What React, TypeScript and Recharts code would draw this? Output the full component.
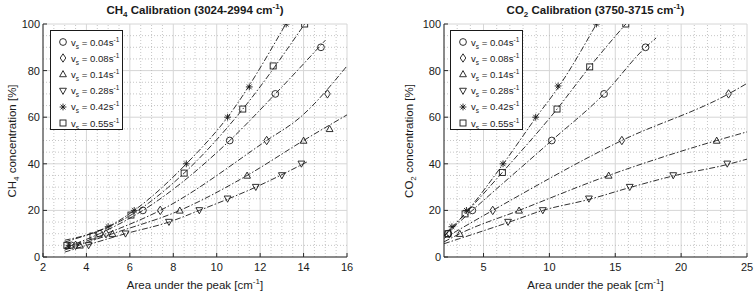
import React from 'react';
import {
  ComposedChart,
  Scatter,
  Line,
  XAxis,
  YAxis,
  CartesianGrid,
  ReferenceLine,
} from 'recharts';

// flow speeds (legend) and the marker used for each
const speeds = ['0.04', '0.08', '0.14', '0.28', '0.42', '0.55'];
const markerKinds = ['circle', 'diamond', 'triangle', 'triangleDown', 'asterisk', 'square'];

const yTicks = [0, 20, 40, 60, 80, 100];
const ch4XTicks = [2, 4, 6, 8, 10, 12, 14, 16];
const co2XTicks = [5, 10, 15, 20, 25];

// CH4 measured points [area, concentration]
const ch4V004 = [[3.3, 5], [4.6, 10], [6.6, 20], [10.6, 50], [12.7, 70], [14.8, 90]];
const ch4V008 = [[3.5, 5], [4.9, 10], [7.4, 20], [12.3, 50], [15.1, 70]];
const ch4V014 = [[3.7, 5], [5.2, 10], [8.3, 20], [11.4, 35], [14.0, 50], [15.2, 55]];
const ch4V028 = [[4.1, 5], [5.8, 10], [7.8, 15], [9.2, 20], [10.5, 25], [11.8, 30], [13.0, 35], [13.9, 40]];
const ch4V042 = [[3.2, 5], [5.0, 13], [6.2, 20], [8.6, 40], [10.5, 60], [11.5, 73], [13.2, 100]];
const ch4V055 = [[3.1, 5], [4.3, 9], [6.05, 18], [8.5, 36], [11.2, 63.5], [12.6, 82], [14.05, 100]];

// CH4 fitted curves
const ch4Fit004 = [[3, 4], [4.6, 10], [6.6, 20], [10.6, 50], [12.7, 70], [15.0, 93]];
const ch4Fit008 = [[3, 3.5], [4.9, 10], [7.4, 20], [12.3, 50], [13.85, 60], [16, 82]];
const ch4Fit014 = [[3, 3], [5.2, 10], [8.3, 20], [11.4, 35], [14.0, 50], [16, 61]];
const ch4Fit028 = [[3, 2.1], [5.8, 10], [7.8, 15], [9.2, 20], [11.8, 30], [14.2, 41]];
const ch4Fit042 = [[3, 7.2], [5.0, 13], [6.2, 20], [8.6, 40], [10.5, 60], [13.18, 100]];
const ch4Fit055 = [[3, 6.4], [6.05, 18], [8.5, 36], [11.2, 63.5], [14.05, 100]];

// CO2 measured points
const co2V004 = [[2.3, 10], [4.15, 20], [10.18, 50], [14.15, 70], [17.3, 90]];
const co2V008 = [[2.4, 10], [5.7, 20], [15.5, 50], [23.6, 70]];
const co2V014 = [[3.2, 10], [7.7, 20], [14.5, 35], [22.7, 50]];
const co2V028 = [[6.86, 15], [9.5, 20], [13.0, 25], [16.1, 30], [19.4, 35], [23.5, 40]];
const co2V042 = [[2.6, 13], [3.7, 20], [6.48, 40], [8.96, 60], [10.66, 73.4], [13.57, 100]];
const co2V055 = [[2.3, 10], [3.6, 18.5], [6.43, 36.3], [10.58, 63.5], [13.06, 81.6], [15.8, 100]];

// CO2 fitted curves
const co2Fit004 = [[2, 9], [4.15, 20], [10.18, 50], [14.15, 70], [17.3, 90], [18.1, 94]];
const co2Fit008 = [[2, 8], [5.7, 20], [15.5, 50], [23.6, 70], [25, 74.5]];
const co2Fit014 = [[2, 6.5], [3.2, 10], [7.7, 20], [14.5, 35], [22.7, 50], [25, 53.7]];
const co2Fit028 = [[2, 5.7], [6.86, 14.8], [9.5, 20], [13, 24.7], [16.1, 29.8], [19.4, 34.8], [23.5, 39.7], [25, 42]];
const co2Fit042 = [[2, 9], [3.8, 20], [6.5, 40], [9, 60], [10.7, 73], [13.57, 100]];
const co2Fit055 = [[2, 9], [3.6, 18.5], [6.43, 36.3], [10.58, 63.5], [13.06, 81.6], [15.8, 100]];

const FONT = '"Liberation Sans", Arial, Helvetica, sans-serif';
const INK = '#1a1a1a';

const pts = (a: number[][]) => a.map(([x, y]) => ({ x, y }));

function minorSteps(from: number, to: number, step: number, major: number) {
  const out: number[] = [];
  for (let v = from + step; v < to - 1e-9; v += step) {
    const r = Math.round(v * 100) / 100;
    if (Math.abs(r / major - Math.round(r / major)) > 1e-6) out.push(r);
  }
  return out;
}

function Marker({ cx, cy, kind }: { cx: number; cy: number; kind: string }) {
  const s = 3.4;
  const st = { fill: 'none', stroke: INK, strokeWidth: 0.9 };
  switch (kind) {
    case 'circle':
      return <circle cx={cx} cy={cy} r={s} {...st} />;
    case 'diamond':
      return <path d={`M${cx},${cy - s - 0.8}L${cx + s - 0.6},${cy}L${cx},${cy + s + 0.8}L${cx - s + 0.6},${cy}Z`} {...st} />;
    case 'triangle':
      return <path d={`M${cx},${cy - s}L${cx + s},${cy + s * 0.8}L${cx - s},${cy + s * 0.8}Z`} {...st} />;
    case 'triangleDown':
      return <path d={`M${cx},${cy + s}L${cx + s},${cy - s * 0.8}L${cx - s},${cy - s * 0.8}Z`} {...st} />;
    case 'square':
      return <rect x={cx - s + 0.4} y={cy - s + 0.4} width={2 * s - 0.8} height={2 * s - 0.8} {...st} />;
    case 'asterisk': {
      const d = s * 0.7;
      return (
        <path
          d={`M${cx - s},${cy}L${cx + s},${cy}M${cx},${cy - s}L${cx},${cy + s}M${cx - d},${cy - d}L${cx + d},${cy + d}M${cx - d},${cy + d}L${cx + d},${cy - d}`}
          {...st}
        />
      );
    }
    default:
      return null;
  }
}

function LegendBox({ left }: { left: number }) {
  return (
    <div
      style={{
        position: 'absolute',
        left,
        top: 30,
        width: 71,
        height: 98,
        border: `1px solid ${INK}`,
        background: '#fff',
        fontFamily: FONT,
        fontSize: 9.6,
        color: INK,
      }}
    >
      {speeds.map((v, i) => (
        <div
          key={v}
          style={{ position: 'absolute', top: 3 + i * 16.2, left: 0, height: 16, display: 'flex', alignItems: 'center' }}
        >
          <svg width={20} height={16} style={{ display: 'block' }}>
            <Marker cx={12} cy={8} kind={markerKinds[i]} />
          </svg>
          <span style={{ whiteSpace: 'nowrap' }}>
            v<span style={{ fontSize: 6.5, position: 'relative', top: 3 }}>s</span> = {v}s
            <span style={{ fontSize: 6.5, position: 'relative', top: -4 }}>-1</span>
          </span>
        </div>
      ))}
    </div>
  );
}

interface PanelProps {
  left: number;
  yAxisWidth: number;
  rightMargin: number;
  xDomain: [number, number];
  xTicks: number[];
  xMinor: number[];
  measured: number[][][];
  fits: number[][][];
  gas: string;
  gasSub: string;
  band: string;
  yLabelX: number;
  legendLeft: number;
}

function Panel(p: PanelProps) {
  const W = 378;
  const H = 295;
  const top = 24;
  const xAxisH = 38;
  const plotL = p.yAxisWidth;
  const plotR = W - p.rightMargin;
  const plotCx = (plotL + plotR) / 2;
  const yMinor = minorSteps(0, 100, 5, 20);
  const axisStroke = { stroke: '#2b2b2b', strokeWidth: 1 };
  const tickStyle = { fill: INK, fontSize: 11, fontFamily: FONT };
  const sub = { fontSize: 8, position: 'relative' as const, top: 3 };
  const sup = { fontSize: 8, position: 'relative' as const, top: -5 };

  return (
    <div style={{ position: 'absolute', left: p.left, top: 0, width: W, height: H }}>
      <ComposedChart width={W} height={H} margin={{ top, right: p.rightMargin, bottom: 0, left: 0 }}>
        <CartesianGrid stroke="#d6d6d6" strokeWidth={1} />
        {p.xMinor.map((v) => (
          <ReferenceLine key={'x' + v} x={v} stroke="#b8b8b8" strokeDasharray="1 2" strokeWidth={0.8} />
        ))}
        {yMinor.map((v) => (
          <ReferenceLine key={'y' + v} y={v} stroke="#b8b8b8" strokeDasharray="1 2" strokeWidth={0.8} />
        ))}
        <XAxis
          type="number"
          dataKey="x"
          domain={p.xDomain}
          ticks={p.xTicks}
          allowDataOverflow
          height={xAxisH}
          tickSize={-4}
          tickMargin={10}
          axisLine={axisStroke}
          tickLine={axisStroke}
          tick={tickStyle}
        />
        <YAxis
          type="number"
          dataKey="y"
          domain={[0, 100]}
          ticks={yTicks}
          allowDataOverflow
          width={p.yAxisWidth}
          tickSize={-4}
          tickMargin={7}
          axisLine={axisStroke}
          tickLine={axisStroke}
          tick={tickStyle}
        />
        <XAxis
          xAxisId="top"
          orientation="top"
          type="number"
          domain={p.xDomain}
          ticks={p.xTicks}
          allowDataOverflow
          height={0}
          tickSize={-4}
          tick={false}
          axisLine={axisStroke}
          tickLine={axisStroke}
        />
        <YAxis
          yAxisId="right"
          orientation="right"
          type="number"
          domain={[0, 100]}
          ticks={yTicks}
          allowDataOverflow
          width={0}
          tickSize={-4}
          tick={false}
          axisLine={axisStroke}
          tickLine={axisStroke}
        />
        {p.fits.map((f, i) => (
          <Line
            key={'f' + i}
            data={pts(f)}
            dataKey="y"
            type="monotone"
            dot={false}
            stroke={INK}
            strokeWidth={0.9}
            strokeDasharray="6 2 1.5 2"
            isAnimationActive={false}
          />
        ))}
        {p.measured.map((m, i) => (
          <Scatter
            key={'m' + i}
            data={pts(m)}
            dataKey="y"
            isAnimationActive={false}
            shape={(s: any) => <Marker cx={s.cx} cy={s.cy} kind={markerKinds[i]} />}
          />
        ))}
      </ComposedChart>

      <div
        style={{
          position: 'absolute',
          left: plotCx,
          top: 10,
          transform: 'translate(-50%, -50%)',
          whiteSpace: 'nowrap',
          fontFamily: FONT,
          fontWeight: 'bold',
          fontSize: 11.5,
          color: INK,
        }}
      >
        {p.gas}
        <span style={sub}>{p.gasSub}</span> Calibration ({p.band} cm<span style={sup}>-1</span>)
      </div>

      <div
        style={{
          position: 'absolute',
          left: plotCx,
          top: 285,
          transform: 'translate(-50%, -50%)',
          whiteSpace: 'nowrap',
          fontFamily: FONT,
          fontSize: 11.5,
          color: INK,
        }}
      >
        Area under the peak [cm<span style={sup}>-1</span>]
      </div>

      <div
        style={{
          position: 'absolute',
          left: p.yLabelX,
          top: (top + H - xAxisH) / 2,
          transform: 'translate(-50%, -50%) rotate(-90deg)',
          whiteSpace: 'nowrap',
          fontFamily: FONT,
          fontSize: 11.5,
          color: INK,
        }}
      >
        {p.gas}
        <span style={sub}>{p.gasSub}</span> concentration [%]
      </div>

      <LegendBox left={p.legendLeft} />
    </div>
  );
}

export default function App() {
  return (
    <div style={{ position: 'absolute', left: 0, top: 0, width: 756, height: 295, background: '#fff' }}>
      <Panel
        left={0}
        yAxisWidth={43}
        rightMargin={31}
        xDomain={[2, 16]}
        xTicks={ch4XTicks}
        xMinor={minorSteps(2, 16, 0.5, 2)}
        measured={[ch4V004, ch4V008, ch4V014, ch4V028, ch4V042, ch4V055]}
        fits={[ch4Fit004, ch4Fit008, ch4Fit014, ch4Fit028, ch4Fit042, ch4Fit055]}
        gas="CH"
        gasSub="4"
        band="3024-2994"
        yLabelX={12}
        legendLeft={50}
      />
      <Panel
        left={378}
        yAxisWidth={66}
        rightMargin={9}
        xDomain={[2, 25]}
        xTicks={co2XTicks}
        xMinor={minorSteps(2, 25, 1, 5)}
        measured={[co2V004, co2V008, co2V014, co2V028, co2V042, co2V055]}
        fits={[co2Fit004, co2Fit008, co2Fit014, co2Fit028, co2Fit042, co2Fit055]}
        gas="CO"
        gasSub="2"
        band="3750-3715"
        yLabelX={31}
        legendLeft={72}
      />
    </div>
  );
}
